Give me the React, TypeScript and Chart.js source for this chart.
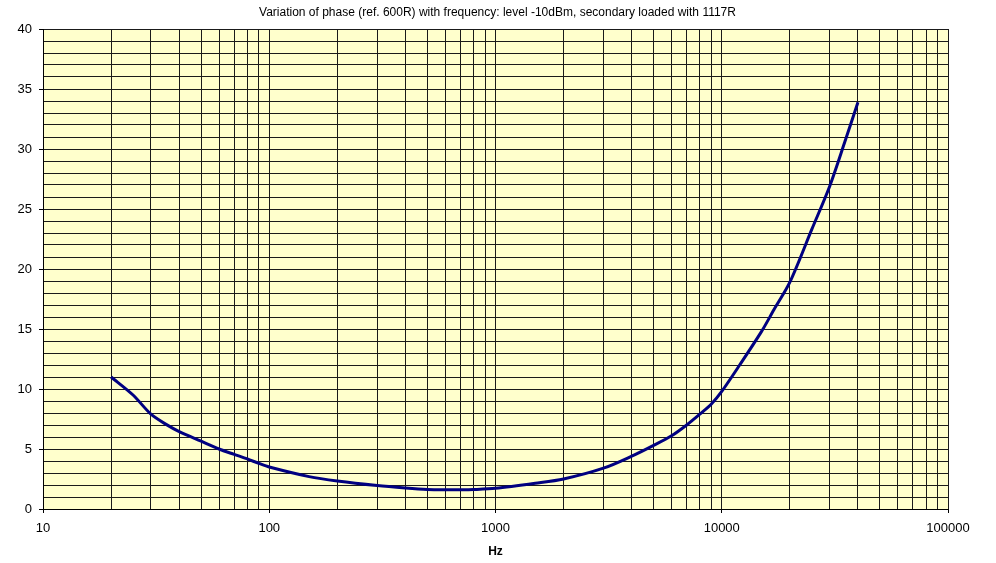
import React, { useEffect, useRef } from "react";
import { Chart, registerables } from "chart.js";

Chart.register(...registerables);

const TITLE = "Variation of phase (ref. 600R) with frequency: level -10dBm, secondary loaded with 1117R";
const X_TITLE = "Hz";

const frequencies = [20, 25, 30, 35, 40, 50, 60, 70, 80, 90, 100, 150, 200, 300, 400, 500, 600, 700, 800, 1000, 1500, 2000, 3000, 4000, 5000, 6000, 7000, 8000, 9000, 10000, 12000, 15000, 17000, 20000, 25000, 30000, 35000, 40000];
const phase = [11.0, 9.5, 7.9, 7.05, 6.45, 5.65, 5.0, 4.55, 4.17, 3.8, 3.5, 2.7, 2.33, 1.95, 1.75, 1.63, 1.6, 1.6, 1.62, 1.72, 2.14, 2.5, 3.4, 4.4, 5.3, 6.1, 7.0, 7.9, 8.75, 9.8, 12.0, 14.8, 16.6, 18.9, 23.3, 26.9, 30.6, 33.9];

const xTickValues: number[] = [];
for (let d = 10; d < 100000; d *= 10) {
  for (let m = 1; m < 10; m++) xTickValues.push(m * d);
}
xTickValues.push(100000);
const xMajorLabels = [10, 100, 1000, 10000, 100000];
const yMajorLabels = [0, 5, 10, 15, 20, 25, 30, 35, 40];

const FONT = "'Liberation Sans', Arial, sans-serif";

const bgPlugin = {
  id: "plotBg",
  beforeDraw(chart: any) {
    const { ctx, chartArea } = chart;
    ctx.save();
    ctx.fillStyle = "#FFFFCC";
    ctx.fillRect(chartArea.left, chartArea.top, chartArea.right - chartArea.left, chartArea.bottom - chartArea.top);
    ctx.restore();
  },
  afterDraw(chart: any) {
    const { ctx, chartArea } = chart;
    ctx.save();
    ctx.fillStyle = "#000";
    ctx.textAlign = "center";
    ctx.textBaseline = "middle";
    ctx.font = `12px ${FONT}`;
    ctx.fillText(TITLE, (chartArea.left + chartArea.right) / 2 + 2, 13);
    ctx.font = `bold 12px ${FONT}`;
    ctx.fillText(X_TITLE, (chartArea.left + chartArea.right) / 2, 552);
    ctx.restore();
  },
};

export default function App() {
  const ref = useRef<HTMLCanvasElement>(null);
  useEffect(() => {
    document.body.style.margin = "0";
    const chart = new Chart(ref.current!, {
      type: "line",
      data: {
        datasets: [
          {
            data: frequencies.map((f, i) => ({ x: f, y: phase[i] })),
            borderColor: "#000080",
            borderWidth: 3,
            pointRadius: 0,
            fill: false,
            tension: 0.3,
          },
        ],
      },
      options: {
        animation: false,
        responsive: false,
        layout: { padding: { top: 29, right: 48, left: 0, bottom: 0 } },
        plugins: { legend: { display: false }, title: { display: false }, tooltip: { enabled: false } },
        scales: {
          x: {
            type: "logarithmic",
            min: 10,
            max: 100000,
            afterBuildTicks: (scale: any) => {
              scale.ticks = xTickValues.map((v) => ({ value: v }));
            },
            afterFit: (scale: any) => {
              scale.height = 54;
            },
            ticks: {
              autoSkip: false,
              maxRotation: 0,
              padding: 8,
              color: "#000",
              font: { family: FONT, size: 13 },
              callback: (v: any) => (xMajorLabels.includes(Number(v)) ? String(v) : ""),
            },
            grid: {
              color: "#1a1a1a",
              lineWidth: 1,
              tickLength: 4,
              tickColor: (ctx: any) => (ctx.tick && xMajorLabels.includes(ctx.tick.value) ? "#000" : "rgba(0,0,0,0)"),
            },
            border: { color: "#000", width: 1 },
          },
          y: {
            type: "linear",
            min: 0,
            max: 40,
            afterFit: (scale: any) => {
              scale.width = 43;
            },
            ticks: {
              stepSize: 1,
              autoSkip: false,
              padding: 7,
              color: "#000",
              font: { family: FONT, size: 13 },
              callback: (v: any) => (yMajorLabels.includes(Number(v)) ? String(v) : ""),
            },
            grid: {
              color: "#1a1a1a",
              lineWidth: 1,
              tickLength: 4,
              tickColor: (ctx: any) => (ctx.tick && yMajorLabels.includes(ctx.tick.value) ? "#000" : "rgba(0,0,0,0)"),
            },
            border: { color: "#000", width: 1 },
          },
        },
      },
      plugins: [bgPlugin],
    } as any);
    return () => chart.destroy();
  }, []);
  return <canvas ref={ref} width={996} height={563} style={{ display: "block" }} />;
}
